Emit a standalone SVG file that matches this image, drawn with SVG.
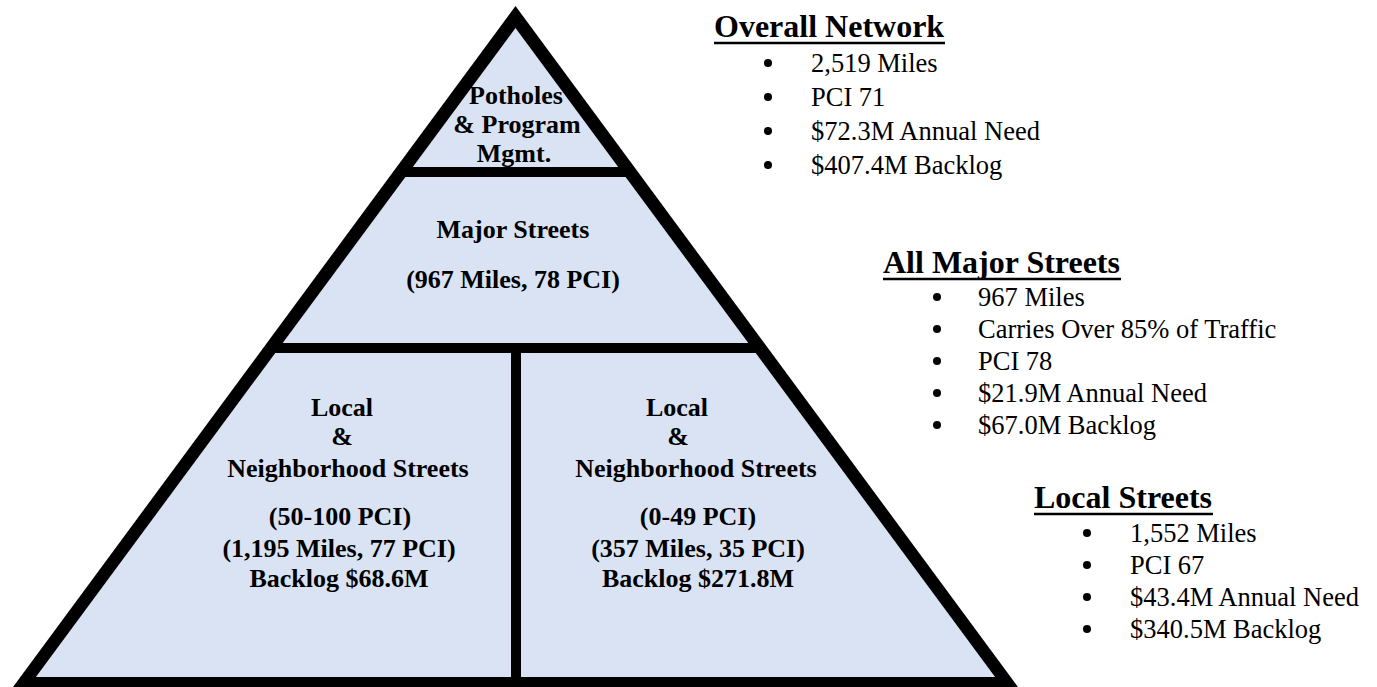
<svg xmlns="http://www.w3.org/2000/svg" width="1377" height="687" viewBox="0 0 1377 687">
  <style>
    .sec { fill: #dae3f3; }
    .lbl { font-family: "Liberation Serif", "Times New Roman", serif; font-weight: bold; font-size: 26px; text-anchor: middle; fill: #000; }
    .hd { font-family: "Liberation Serif", "Times New Roman", serif; font-weight: bold; font-size: 32px; fill: #000; }
    .it { font-family: "Liberation Serif", "Times New Roman", serif; font-size: 26.5px; fill: #000; }
    .ul { stroke: #000; stroke-width: 2.5; }
    .dot { fill: #000; }
  </style>
  <rect width="1377" height="687" fill="#fff"/>

  <!-- pyramid: black frame, the light sections leave the dividing bars -->
  <g id="pyramid-frame">
    <polygon points="515.5,6 1018,687 13,687" fill="#000"/>
  </g>

  <g id="tier-potholes">
    <polygon class="sec" points="515.5,28 618.2,167 412.8,167"/>
    <text class="lbl" x="516" y="104">Potholes</text>
    <text class="lbl" x="517" y="133">&amp; Program</text>
    <text class="lbl" x="514" y="162">Mgmt.</text>
  </g>

  <g id="tier-major">
    <polygon class="sec" points="405.4,177 625.6,177 748.3,343 282.7,343"/>
    <text class="lbl" x="513" y="238">Major Streets</text>
    <text class="lbl" x="513" y="288">(967 Miles, 78 PCI)</text>
  </g>

  <g id="tier-local-good">
    <polygon class="sec" points="275.3,353 511,353 511,677 35.9,677"/>
    <text class="lbl" x="342" y="416">Local</text>
    <text class="lbl" x="342" y="445">&amp;</text>
    <text class="lbl" x="348" y="477">Neighborhood Streets</text>
    <text class="lbl" x="340" y="525">(50-100 PCI)</text>
    <text class="lbl" x="339" y="557">(1,195 Miles, 77 PCI)</text>
    <text class="lbl" x="339" y="587">Backlog $68.6M</text>
  </g>

  <g id="tier-local-poor">
    <polygon class="sec" points="521,353 755.7,353 995.1,677 521,677"/>
    <text class="lbl" x="677" y="416">Local</text>
    <text class="lbl" x="678" y="445">&amp;</text>
    <text class="lbl" x="696" y="477">Neighborhood Streets</text>
    <text class="lbl" x="698" y="525">(0-49 PCI)</text>
    <text class="lbl" x="698" y="557">(357 Miles, 35 PCI)</text>
    <text class="lbl" x="698" y="587">Backlog $271.8M</text>
  </g>

  <!-- summary lists -->
  <g id="list-overall">
    <text class="hd" x="714" y="37">Overall Network</text>
    <line class="ul" x1="714" y1="43" x2="945" y2="43"/>
    <circle class="dot" cx="768" cy="63" r="4"/>
    <text class="it" x="811" y="72">2,519 Miles</text>
    <circle class="dot" cx="768" cy="97" r="4"/>
    <text class="it" x="811" y="106">PCI 71</text>
    <circle class="dot" cx="768" cy="131" r="4"/>
    <text class="it" x="811" y="140">$72.3M Annual Need</text>
    <circle class="dot" cx="768" cy="165" r="4"/>
    <text class="it" x="811" y="174">$407.4M Backlog</text>
  </g>

  <g id="list-major">
    <text class="hd" x="883" y="273">All Major Streets</text>
    <line class="ul" x1="883" y1="279" x2="1121" y2="279"/>
    <circle class="dot" cx="937" cy="297" r="4"/>
    <text class="it" x="978" y="306">967 Miles</text>
    <circle class="dot" cx="937" cy="329" r="4"/>
    <text class="it" x="978" y="338">Carries Over 85% of Traffic</text>
    <circle class="dot" cx="937" cy="361" r="4"/>
    <text class="it" x="978" y="370">PCI 78</text>
    <circle class="dot" cx="937" cy="393" r="4"/>
    <text class="it" x="978" y="402">$21.9M Annual Need</text>
    <circle class="dot" cx="937" cy="425" r="4"/>
    <text class="it" x="978" y="434">$67.0M Backlog</text>
  </g>

  <g id="list-local">
    <text class="hd" x="1034" y="508">Local Streets</text>
    <line class="ul" x1="1034" y1="514" x2="1213" y2="514"/>
    <circle class="dot" cx="1087" cy="533" r="4"/>
    <text class="it" x="1130" y="542">1,552 Miles</text>
    <circle class="dot" cx="1087" cy="565" r="4"/>
    <text class="it" x="1130" y="574">PCI 67</text>
    <circle class="dot" cx="1087" cy="597" r="4"/>
    <text class="it" x="1130" y="606">$43.4M Annual Need</text>
    <circle class="dot" cx="1087" cy="629" r="4"/>
    <text class="it" x="1130" y="638">$340.5M Backlog</text>
  </g>
</svg>
